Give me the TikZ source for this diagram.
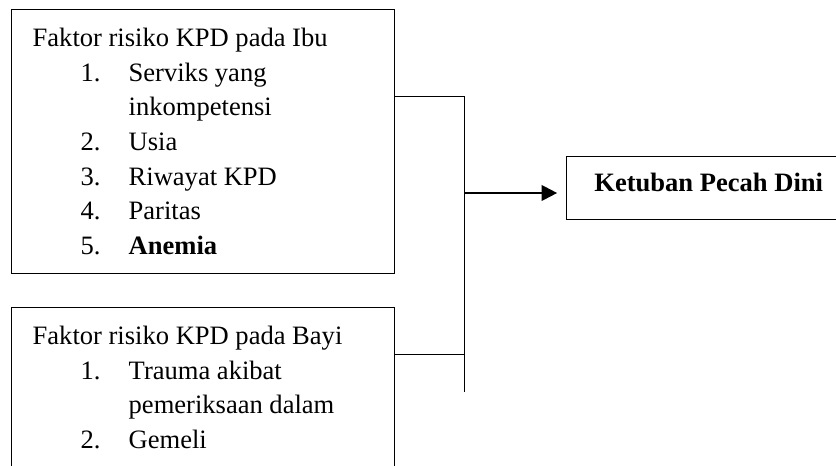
\documentclass[tikz,border=0pt]{standalone}
\usepackage{fontspec}
\setmainfont{Liberation Serif}
\usetikzlibrary{arrows.meta}
\newcommand\butir[2]{\hspace*{21.7pt}\makebox[21.7pt][l]{#1}#2}
\newcommand\lanjut[1]{\hspace*{43.4pt}#1}
\begin{document}
\begin{tikzpicture}[x=0.452pt,y=-0.452pt]
        \tikzset{
        faktor/.style={draw, line width=0.6pt, anchor=north west, text width=154pt,
        inner xsep=9.5pt, inner ysep=8.4pt, align=flush left, font=\fontsize{12}{15.64}\selectfont},
        hasil/.style={draw, line width=0.6pt, anchor=north west, minimum width=128.4pt,
        minimum height=28.5pt, text height=8.1pt, text depth=5.2pt, font=\bfseries\fontsize{12}{14}\selectfont},
        garis/.style={line width=0.45pt},
        panah/.style={-{Triangle[length=7pt,width=7pt]}, line width=1pt, shorten >=4pt}
        }
        \useasboundingbox (0,0) rectangle (836,466);
        \clip (0,0) rectangle (836,466);
        \node[faktor, minimum height=118pt] (ibu) at (11,9) {Faktor risiko KPD pada Ibu\\
        \butir{1.}{Serviks yang}\\
        \lanjut{inkompetensi}\\
        \butir{2.}{Usia}\\
        \butir{3.}{Riwayat KPD}\\
        \butir{4.}{Paritas}\\
        \butir{5.}{\textbf{Anemia}}};
        \node[faktor] (bayi) at (11,307) {Faktor risiko KPD pada Bayi\\
        \butir{1.}{Trauma akibat}\\
        \lanjut{pemeriksaan dalam}\\
        \butir{2.}{Gemeli}\rule[-30pt]{0pt}{0pt}};
        \node[hasil] (kpd) at (566,156) {Ketuban Pecah Dini};
        
        \coordinate (jibu) at (464,97);
        \coordinate (jbayi) at (464,355);
        \coordinate (jtengah) at (464,193);
        \coordinate (jbawah) at (464,392);
        \draw[garis] (ibu.east |- jibu) -- (jibu) -- (jbawah);
        \draw[garis] (bayi.east |- jbayi) -- (jbayi);
        \draw[panah] (jtengah) -- (jtengah -| kpd.west);
        \end{tikzpicture}
\end{document}
